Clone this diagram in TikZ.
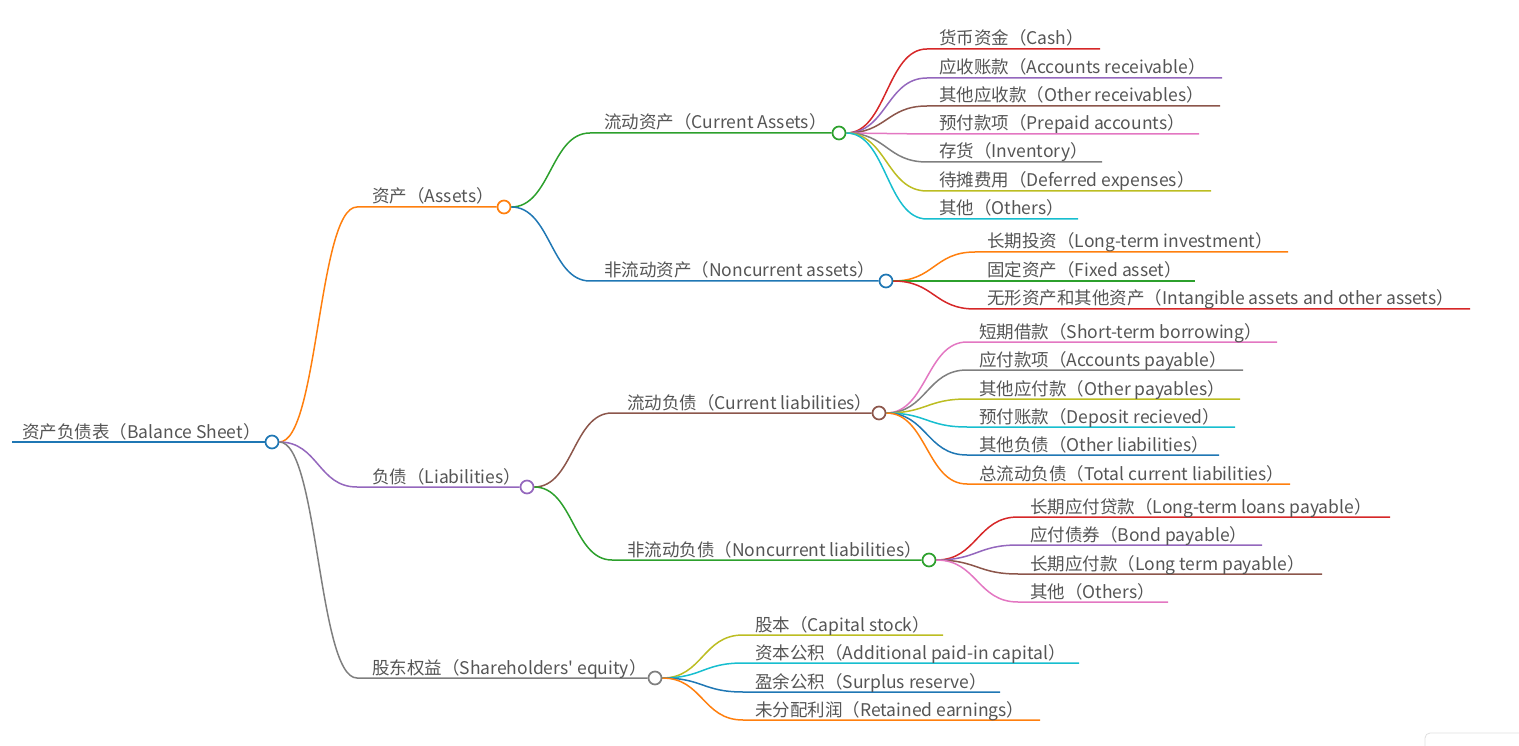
\documentclass[tikz,border=0pt]{standalone}
\usepackage{fontspec}
\setmainfont{Noto Sans CJK SC}
\usetikzlibrary{calc}
\definecolor{cblue}{HTML}{1F77B4}
\definecolor{corange}{HTML}{FF7F0E}
\definecolor{cgreen}{HTML}{2CA02C}
\definecolor{cred}{HTML}{D62728}
\definecolor{cpurple}{HTML}{9467BD}
\definecolor{cbrown}{HTML}{8C564B}
\definecolor{cpink}{HTML}{E377C2}
\definecolor{cgray}{HTML}{7F7F7F}
\definecolor{colive}{HTML}{BCBD22}
\definecolor{ccyan}{HTML}{17BECF}
\definecolor{txt}{HTML}{555555}
\tikzset{
  link/.style={line width=1.5pt},
  hubnode/.style={circle, draw=#1, fill=white, line width=1.7pt, minimum size=13pt, inner sep=0pt},
  lbl/.style={anchor=base west, inner sep=0pt, text=txt, font=\fontsize{17.5}{21}\selectfont},
}
\newcommand\mmlink[4]{%
  \coordinate (mid) at ($(#1.east)!0.5!(#2)$);
  \draw[link,#4] (#1.east) .. controls (mid |- #1.east) and (mid |- #2) .. (#2) -- (#3);
}
% parent, name, startx, textx, y, endx, color, text
\newcommand\leaf[8]{%
  \coordinate (#2S) at (#3,#5);
  \coordinate (#2E) at (#6,#5);
  \mmlink{#1}{#2S}{#2E}{#7}
  \node[lbl] (#2T) at (#4,#5-4) {#8};
}
% parent, name, startx, textx, y, circlex, color, text
\newcommand\hubbranch[8]{%
  \node[hubnode=#7] (#2) at (#6,#5) {};
  \coordinate (#2S) at (#3,#5);
  \mmlink{#1}{#2S}{#2.west}{#7}
  \node[lbl] (#2T) at (#4,#5-4) {#8};
}
\begin{document}
\begin{tikzpicture}[x=1pt,y=-1pt]
\useasboundingbox (0,0) rectangle (1519,746);
% root
\node[hubnode=cblue] (root) at (272,442) {};
\coordinate (rootS) at (12,442);
\draw[link,cblue] (rootS) -- (root.west);
\node[lbl] (rootT) at (22,438) {资产负债表（Balance Sheet）};
% level 1
\hubbranch{root}{assets}{357}{372}{207}{504}{corange}{资产（Assets）}
\hubbranch{root}{liab}{357}{372}{487}{527}{cpurple}{负债（Liabilities）}
\hubbranch{root}{eq}{357}{372}{678}{655}{cgray}{股东权益（Shareholders\textquotesingle\ equity）}
% level 2
\hubbranch{assets}{ca}{590}{604}{133}{839}{cgreen}{流动资产（Current Assets）}
\hubbranch{assets}{nca}{590}{604}{281}{886}{cblue}{非流动资产（Noncurrent assets）}
\hubbranch{liab}{cl}{612}{627}{413}{879}{cbrown}{流动负债（Current liabilities）}
\hubbranch{liab}{ncl}{612}{627}{560}{929}{cgreen}{非流动负债（Noncurrent liabilities）}
% current assets
\leaf{ca}{cash}{927}{939}{49}{1100}{cred}{货币资金（Cash）}
\leaf{ca}{ar}{927}{939}{78}{1222}{cpurple}{应收账款（Accounts receivable）}
\leaf{ca}{orc}{927}{939}{106}{1220}{cbrown}{其他应收款（Other receivables）}
\leaf{ca}{pp}{927}{939}{134}{1199}{cpink}{预付款项（Prepaid accounts）}
\leaf{ca}{inv}{927}{939}{162}{1102}{cgray}{存货（Inventory）}
\leaf{ca}{dex}{927}{939}{191}{1211}{colive}{待摊费用（Deferred expenses）}
\leaf{ca}{oth}{927}{939}{219}{1078}{ccyan}{其他（Others）}
% noncurrent assets
\leaf{nca}{lti}{975}{987}{252}{1288}{corange}{长期投资（Long-term investment）}
\leaf{nca}{fa}{975}{987}{281}{1195}{cgreen}{固定资产（Fixed asset）}
\leaf{nca}{ia}{975}{987}{309}{1470}{cred}{无形资产和其他资产（Intangible assets and other assets）}
% current liabilities
\leaf{cl}{stb}{967}{979}{342}{1277}{cpink}{短期借款（Short-term borrowing）}
\leaf{cl}{ap}{967}{979}{370}{1243}{cgray}{应付款项（Accounts payable）}
\leaf{cl}{opy}{967}{979}{399}{1240}{colive}{其他应付款（Other payables）}
\leaf{cl}{dr}{967}{979}{427}{1235}{ccyan}{预付账款（Deposit recieved）}
\leaf{cl}{ol}{967}{979}{455}{1219}{cblue}{其他负债（Other liabilities）}
\leaf{cl}{tcl}{967}{979}{484}{1290}{corange}{总流动负债（Total current liabilities）}
% noncurrent liabilities
\leaf{ncl}{ltl}{1018}{1030}{517}{1390}{cred}{长期应付贷款（Long-term loans payable）}
\leaf{ncl}{bp}{1018}{1030}{545}{1262}{cpurple}{应付债券（Bond payable）}
\leaf{ncl}{ltp}{1018}{1030}{574}{1322}{cbrown}{长期应付款（Long term payable）}
\leaf{ncl}{otl}{1018}{1030}{602}{1168}{cpink}{其他（Others）}
% equity
\leaf{eq}{cs}{743}{755}{635}{943}{colive}{股本（Capital stock）}
\leaf{eq}{apic}{743}{755}{663}{1079}{ccyan}{资本公积（Additional paid-in capital）}
\leaf{eq}{sr}{743}{755}{692}{1000}{cblue}{盈余公积（Surplus reserve）}
\leaf{eq}{re}{743}{755}{720}{1040}{corange}{未分配利润（Retained earnings）}
% corner artifact
\begin{scope}
\clip (0,0) rectangle (1519,746);
\draw[gray!25, line width=0.8pt, rounded corners=5pt] (1425,733) rectangle (1540,770);
\end{scope}
\end{tikzpicture}
\end{document}
